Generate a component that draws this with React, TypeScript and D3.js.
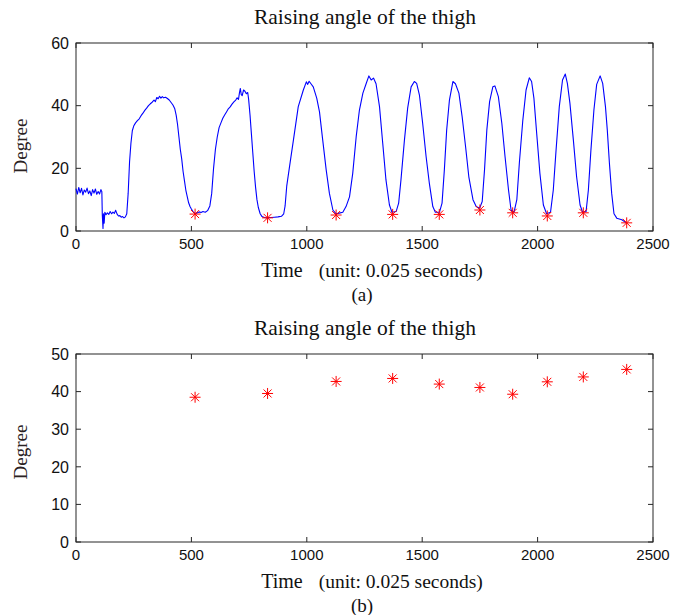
import React from "react";
import * as d3 from "d3";

// time axis ticks (unit: 0.025 s)
const timeTicks = [0, 500, 1000, 1500, 2000, 2500];
const topDegTicks = [0, 20, 40, 60];
const bottomDegTicks = [0, 10, 20, 30, 40, 50];

// raising angle of the thigh: [time, degree]
const thighAngle: [number, number][] = [
  [0, 13.5], [6, 11.8], [12, 13.9], [18, 12.2], [24, 13.6], [30, 11.5], [36, 13.1], [42, 12.4],
  [48, 13.7], [54, 11.9], [60, 12.8], [66, 11.3], [72, 13.2], [78, 12.1], [84, 13.4], [90, 11.7],
  [96, 12.6], [102, 11.8], [108, 13.2], [112, 12.5], [114, 5], [117, 0.8], [119, 5.5], [122, 2.5],
  [125, 6], [130, 5.2], [136, 5.8], [142, 5.3], [148, 6.2], [154, 5.5], [160, 6], [166, 5.6],
  [172, 6.6], [178, 5.4], [184, 4.8], [190, 4.9], [196, 4.4], [202, 4.6], [208, 4.2], [214, 4.5],
  [220, 5.5], [226, 12], [232, 22], [238, 28], [244, 32], [250, 33.5], [258, 34.5], [266, 35.2],
  [274, 35.8], [282, 36.8], [290, 37.6], [298, 38.5], [306, 39.2], [314, 40], [322, 40.6],
  [330, 41.1], [338, 41.8], [344, 41.3], [350, 42.6], [356, 42.2], [362, 43], [368, 42.4],
  [374, 42.9], [380, 42.5], [388, 42.7], [396, 42.3], [404, 41.8], [412, 41], [420, 40.2],
  [428, 39], [434, 37], [440, 34], [446, 30], [452, 26], [458, 23], [464, 19], [470, 16],
  [476, 13], [482, 11], [488, 9], [494, 7.8], [500, 7], [506, 6.3], [512, 5.8], [518, 5.5],
  [526, 5.8], [534, 6.1], [542, 5.9], [550, 6.2], [560, 6], [570, 6.5], [580, 8], [588, 12],
  [596, 20], [604, 26], [612, 30], [620, 33], [628, 34.5], [636, 36], [644, 37], [652, 38],
  [660, 39], [668, 39.6], [676, 40.5], [684, 41.2], [692, 41.8], [698, 42.5], [704, 42],
  [708, 44], [712, 45.5], [716, 43.5], [720, 43.2], [726, 45], [732, 44.6], [738, 43.8],
  [744, 44.2], [748, 42], [754, 37], [760, 31], [766, 25], [772, 19], [778, 14], [784, 10],
  [790, 7.5], [798, 5.5], [806, 4.6], [816, 4.3], [830, 4.2], [845, 4.3], [860, 4.4], [875, 4.5],
  [890, 4.7], [900, 5.5], [906, 8], [913, 14.3], [928, 22], [942, 29], [963, 39.7], [985, 45],
  [998, 47.6], [1004, 46.8], [1010, 47.8], [1018, 47], [1028, 46], [1043, 42.4], [1055, 38],
  [1069, 29], [1084, 19.5], [1098, 12], [1113, 6.7], [1127, 5.5], [1140, 5.7], [1156, 6],
  [1170, 7.8], [1185, 10.9], [1199, 18.4], [1214, 30.1], [1228, 38.6], [1243, 44], [1257, 47],
  [1269, 49.5], [1279, 48.2], [1289, 48.8], [1300, 47], [1315, 39.7], [1329, 28], [1343, 16.3],
  [1358, 8.3], [1369, 6], [1387, 6.2], [1398, 8.9], [1408, 16.3], [1423, 29], [1437, 39.2],
  [1452, 46], [1466, 47.7], [1476, 47.1], [1488, 43.4], [1502, 34.4], [1517, 23.7], [1531, 15.2],
  [1546, 7.8], [1557, 6], [1575, 6], [1586, 8.9], [1596, 19.5], [1606, 32.2], [1618, 41.8],
  [1633, 47.7], [1644, 47], [1659, 44], [1673, 36.5], [1688, 26.9], [1702, 17.3], [1720, 10],
  [1734, 7.8], [1749, 7.3], [1760, 9.4], [1770, 19.5], [1780, 32.2], [1792, 41.3], [1806, 46],
  [1815, 46.3], [1830, 42.9], [1845, 34.4], [1859, 23.7], [1874, 13.1], [1885, 6.7], [1898, 6],
  [1910, 10], [1921, 21.8], [1936, 35.4], [1950, 45], [1964, 48.9], [1974, 47.7], [1984, 42.4],
  [1996, 31.2], [2010, 18.4], [2025, 8.3], [2039, 5.5], [2056, 6], [2068, 13.1], [2080, 25.8],
  [2094, 39.7], [2108, 48.2], [2120, 50.1], [2129, 47.1], [2140, 40.8], [2155, 29], [2169, 17.3],
  [2184, 8.3], [2195, 6], [2210, 6.2], [2220, 13.1], [2231, 25.8], [2244, 38.6], [2256, 46.8],
  [2271, 49.5], [2282, 47.1], [2294, 39.7], [2302, 32.2], [2311, 21.8], [2321, 12], [2331, 5.5],
  [2343, 4.1], [2365, 3.6], [2386, 2.5],
];

// detected cycles: time of each minimum, the minimum angle and the peak angle
const cycleTimes = [516, 830, 1127, 1372, 1574, 1750, 1892, 2042, 2198, 2386];
const minAngles = [5.4, 4.2, 5.1, 5.3, 5.3, 6.7, 5.8, 4.8, 5.8, 2.6];
const peakAngles = [38.5, 39.5, 42.7, 43.5, 42.0, 41.1, 39.3, 42.6, 43.9, 45.9];

const W = 673;
const H = 615;
const left = 76;
const right = 653;
const plotH = 188;
const serif = "'Liberation Serif', 'Times New Roman', serif";
const sans = "'Liberation Sans', Arial, sans-serif";

const starPath = "M-5.5,0H5.5M0,-5.5V5.5M-4,-4L4,4M-4,4L4,-4";

type PanelProps = {
  top: number;
  yMax: number;
  yTicks: number[];
  label: string;
  degreeY: number;
  line?: [number, number][];
  stars: [number, number][];
};

const Panel = ({ top, yMax, yTicks, label, degreeY, line, stars }: PanelProps) => {
  const bottom = top + plotH;
  const x = d3.scaleLinear().domain([0, 2500]).range([left, right]);
  const y = d3.scaleLinear().domain([0, yMax]).range([bottom, top]);
  const lineGen = d3
    .line<[number, number]>()
    .x((d) => x(d[0]))
    .y((d) => y(d[1]));
  const tick = 5;
  const axisColor = "#262626";

  return (
    <g>
      <text x={365} y={top - 19} textAnchor="middle" fontFamily={serif} fontSize={21.5} fill="#111">
        Raising angle of the thigh
      </text>
      <rect x={left} y={top} width={right - left} height={plotH} fill="none" stroke={axisColor} strokeWidth={1} />
      {timeTicks.map((t) => (
        <g key={"x" + t}>
          <line x1={x(t)} x2={x(t)} y1={bottom} y2={bottom - tick} stroke={axisColor} />
          <line x1={x(t)} x2={x(t)} y1={top} y2={top + tick} stroke={axisColor} />
          <text x={x(t)} y={bottom + 18} textAnchor="middle" fontFamily={sans} fontSize={15} fill="#111">
            {t}
          </text>
        </g>
      ))}
      {yTicks.map((v) => (
        <g key={"y" + v}>
          <line x1={left} x2={left + tick} y1={y(v)} y2={y(v)} stroke={axisColor} />
          <line x1={right} x2={right - tick} y1={y(v)} y2={y(v)} stroke={axisColor} />
          <text x={left - 7} y={y(v)} dy="0.36em" textAnchor="end" fontFamily={sans} fontSize={16} fill="#111">
            {v}
          </text>
        </g>
      ))}
      {line && (
        <path d={lineGen(line) ?? ""} fill="none" stroke="#0000ff" strokeWidth={1.1} strokeLinejoin="round" />
      )}
      {stars.map((d, i) => (
        <path key={i} d={starPath} transform={`translate(${x(d[0])},${y(d[1])})`} stroke="#ff0000" strokeWidth={1} fill="none" />
      ))}
      <text
        transform={`translate(27,${degreeY}) rotate(-90)`}
        textAnchor="middle"
        fontFamily={serif}
        fontSize={19}
        fill="#2a2222"
      >
        Degree
      </text>
      <text x={372} y={bottom + 46} textAnchor="middle" fontFamily={serif} fill="#111">
        <tspan fontSize={20}>Time</tspan>
        <tspan fontSize={19.5} dx={16}>(unit: 0.025 seconds)</tspan>
      </text>
      <text x={362} y={bottom + 70} textAnchor="middle" fontFamily={serif} fontSize={19} fill="#111">
        {label}
      </text>
    </g>
  );
};

export default function App() {
  const minStars = cycleTimes.map((t, i) => [t, minAngles[i]] as [number, number]);
  const peakStars = cycleTimes.map((t, i) => [t, peakAngles[i]] as [number, number]);
  return (
    <svg width={W} height={H} style={{ position: "absolute", left: 0, top: 0, background: "#fff" }}>
      <rect width={W} height={H} fill="#fff" />
      <Panel top={43} yMax={60} yTicks={topDegTicks} label="(a)" degreeY={146} line={thighAngle} stars={minStars} />
      <Panel top={354} yMax={50} yTicks={bottomDegTicks} label="(b)" degreeY={452} stars={peakStars} />
    </svg>
  );
}
